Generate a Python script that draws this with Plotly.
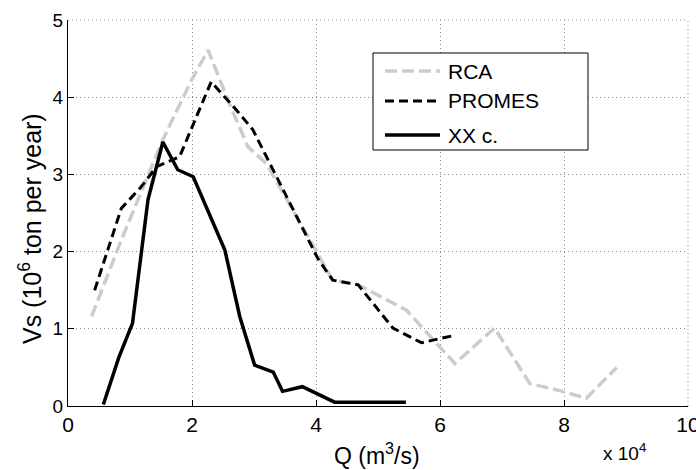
import plotly.graph_objects as go

# Sediment discharge Vs versus river discharge Q (Q in units of 10^4 m^3/s)
rca_q = [0.38, 0.86, 1.53, 1.99, 2.26, 2.58, 2.90, 3.20, 4.27, 4.68, 5.46, 6.24, 6.88, 7.45, 7.98, 8.36, 8.85]
rca_vs = [1.16, 2.15, 3.45, 4.22, 4.61, 3.96, 3.36, 3.14, 1.63, 1.57, 1.24, 0.55, 1.01, 0.29, 0.19, 0.10, 0.50]

promes_q = [0.43, 0.86, 1.16, 1.43, 1.69, 1.80, 2.31, 2.72, 2.98, 4.03, 4.27, 4.68, 5.24, 5.70, 6.21]
promes_vs = [1.50, 2.56, 2.82, 3.10, 3.19, 3.23, 4.20, 3.83, 3.58, 1.91, 1.63, 1.57, 1.01, 0.82, 0.91]

xx_q = [0.57, 0.82, 1.04, 1.29, 1.53, 1.77, 2.02, 2.53, 2.77, 3.01, 3.31, 3.46, 3.78, 4.30, 5.45]
xx_vs = [0.02, 0.63, 1.07, 2.67, 3.42, 3.06, 2.97, 2.02, 1.16, 0.53, 0.44, 0.19, 0.25, 0.05, 0.05]

x_ticks = [0, 2, 4, 6, 8, 10]
y_ticks = [0, 1, 2, 3, 4, 5]

series_names = ["RCA", "PROMES", "XX c."]

FONT = "Liberation Sans, Arial, sans-serif"
W, H = 696, 470
ML, MR, MT, MB = 68, 8, 20, 64
PW, PH = W - ML - MR, H - MT - MB

GRID = dict(color="#8a8a8a", width=1, dash="1px,3px")

styles = {
    "RCA": dict(color="#cccccc", width=3.5, dash="12px,5px"),
    "PROMES": dict(color="black", width=3, dash="9px,5px"),
    "XX c.": dict(color="black", width=3.5, dash="solid"),
}


def px_x(p):
    return (p - ML) / PW


def px_y(p):
    return (H - MB - p) / PH


fig = go.Figure()
for name, q, v in [("RCA", rca_q, rca_vs), ("PROMES", promes_q, promes_vs), ("XX c.", xx_q, xx_vs)]:
    fig.add_trace(go.Scatter(x=q, y=v, mode="lines", name=name, line=styles[name],
                             showlegend=False))

shapes = []
annotations = []

# dotted grid at the outer edges (top and right)
shapes.append(dict(type="line", xref="paper", yref="paper", x0=0, x1=1, y0=1, y1=1, line=GRID))
shapes.append(dict(type="line", xref="paper", yref="paper", x0=1, x1=1, y0=0, y1=1, line=GRID))

# legend box
shapes.append(dict(type="rect", xref="paper", yref="paper",
                   x0=px_x(373), x1=px_x(588), y0=px_y(150), y1=px_y(53),
                   line=dict(color="black", width=1), fillcolor="white", layer="above"))
for name, ypix in zip(series_names, [71, 101, 135]):
    st = styles[name]
    shapes.append(dict(type="line", xref="paper", yref="paper",
                       x0=px_x(385), x1=px_x(440), y0=px_y(ypix), y1=px_y(ypix),
                       line=dict(color=st["color"], width=st["width"], dash=st["dash"]),
                       layer="above"))
    annotations.append(dict(text=name, xref="paper", yref="paper", x=px_x(446), y=px_y(ypix),
                            xanchor="left", yanchor="middle", showarrow=False,
                            font=dict(family=FONT, size=21, color="black")))

# axis titles and exponent label
annotations.append(dict(text="Vs (10<sup>6</sup> ton per year)", xref="paper", yref="paper",
                        x=px_x(30), y=px_y(229), textangle=-90, showarrow=False,
                        xanchor="center", yanchor="middle",
                        font=dict(family=FONT, size=25, color="black")))
annotations.append(dict(text="Q (m<sup>3</sup>/s)", xref="paper", yref="paper",
                        x=px_x(377), y=px_y(471), showarrow=False,
                        xanchor="center", yanchor="bottom",
                        font=dict(family=FONT, size=23, color="black")))
annotations.append(dict(text="x 10<sup>4</sup>", xref="paper", yref="paper",
                        x=px_x(648), y=px_y(466), showarrow=False,
                        xanchor="right", yanchor="bottom",
                        font=dict(family=FONT, size=19, color="black")))

axis_common = dict(showline=True, linecolor="black", linewidth=1, mirror=False,
                   ticks="inside", ticklen=6, tickwidth=1, tickcolor="black",
                   showgrid=True, gridcolor=GRID["color"], gridwidth=1, griddash=GRID["dash"],
                   zeroline=False, ticklabeloverflow="allow", automargin=False)

fig.update_layout(
    width=W, height=H,
    margin=dict(l=ML, r=MR, t=MT, b=MB, autoexpand=False),
    paper_bgcolor="white", plot_bgcolor="white",
    font=dict(family=FONT, color="black"),
    xaxis=dict(range=[0, 10], tickvals=x_ticks, ticktext=[str(t) for t in x_ticks],
               tickfont=dict(size=21), **axis_common),
    yaxis=dict(range=[0, 5], tickvals=y_ticks, ticktext=[str(t) for t in y_ticks],
               tickfont=dict(size=19), **axis_common),
    shapes=shapes,
    annotations=annotations,
    showlegend=False,
)

fig.write_html("out.html")
